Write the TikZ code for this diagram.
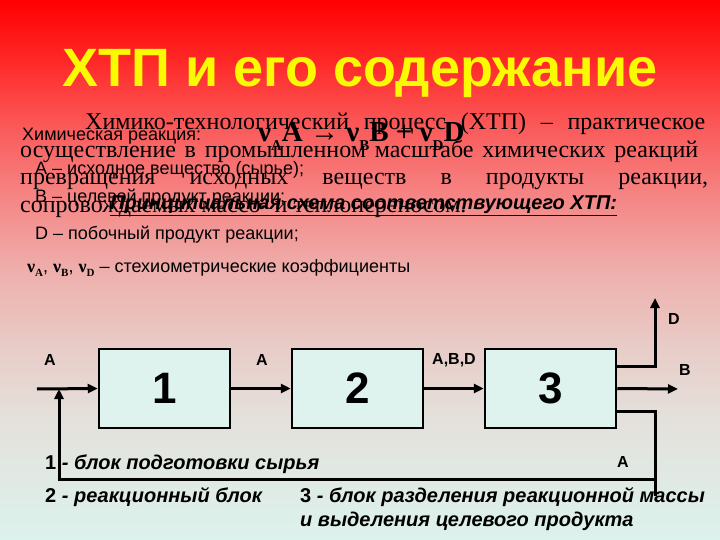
\documentclass[tikz,border=0pt]{standalone}
\usepackage{fontspec}
\setmainfont{Liberation Serif}
\setsansfont{Liberation Sans}
\usetikzlibrary{arrows.meta,positioning}

\definecolor{titleyellow}{RGB}{250,250,0}
\definecolor{boxfill}{RGB}{222,243,238}
\definecolor{bgA}{RGB}{255,0,0}
\definecolor{bgB}{RGB}{255,40,40}
\definecolor{bgC}{RGB}{250,95,95}
\definecolor{bgD}{RGB}{245,135,135}
\definecolor{bgE}{RGB}{238,175,172}
\definecolor{bgF}{RGB}{232,205,200}
\definecolor{bgG}{RGB}{228,225,220}
\definecolor{bgH}{RGB}{220,242,236}
\pgfdeclareverticalshading{slidebg}{100bp}{color(0bp)=(bgH); color(25bp)=(bgH);
  color(36.1bp)=(bgG); color(42.6bp)=(bgF); color(50bp)=(bgE); color(56.5bp)=(bgD);
  color(62.5bp)=(bgC); color(69.4bp)=(bgB); color(75bp)=(bgA); color(100bp)=(bgA)}

\newcommand\nusub[1]{ν\raisebox{-0.3em}{\fontsize{15}{15}\selectfont #1}}
\newcommand\nusmall[1]{{\rmfamily\bfseries\fontsize{18}{18}\selectfont ν\raisebox{-0.25em}{\fontsize{11}{11}\selectfont #1}}}

\tikzset{
  blk/.style={draw, line width=2.5pt, fill=boxfill, minimum width=131pt, minimum height=79pt,
    inner sep=0pt, font=\fontsize{44}{44}\selectfont\sffamily\bfseries},
  flow/.style={line width=3pt, -{Triangle[length=10pt,width=9pt]}},
  pipe/.style={line width=3pt},
  lbl/.style={inner sep=0pt, font=\fontsize{16}{16}\selectfont\sffamily\bfseries},
  note/.style={anchor=base west, inner sep=0pt, font=\fontsize{20}{20}\selectfont\sffamily\bfseries},
  txt/.style={anchor=base west, inner sep=0pt, font=\fontsize{24}{24}\selectfont\rmfamily},
  sml/.style={anchor=base west, inner sep=0pt, font=\fontsize{18}{18}\selectfont\sffamily}
}

\begin{document}
\begin{tikzpicture}[x=1pt,y=-1pt]
\useasboundingbox (0,0) rectangle (720,540);
\shade[shading=slidebg] (0,0) rectangle (720,540);

\node[inner sep=0pt, text=titleyellow, font=\fontsize{54}{54}\selectfont\sffamily\bfseries] (title) at (360,74) {ХТП и его содержание};

\node[txt] (par1) at (85,130) {\makebox[620pt][s]{Химико-технологический процесс (ХТП) – практическое}};
\node[txt] (par2) at (20,158) {\makebox[678pt][s]{осуществление в промышленном масштабе химических реакций}};
\node[txt] (par3) at (20,185) {\makebox[688pt][s]{превращения исходных веществ в продукты реакции,}};
\node[txt] (par4) at (20,213) {сопровождаемых массо- и теплопереносом.};

\node[sml] (react) at (22,141) {Химическая реакция:};
\node[anchor=base west, inner sep=0pt, font=\fontsize{29}{29}\selectfont\rmfamily\bfseries] (eqn) at (258,142)
  {\nusub{A}A → \nusub{B}B + \nusub{D}D};
\node[sml] (defA) at (35,175) {А – исходное вещество (сырье);};
\node[sml] (defB) at (35,203) {В – целевой продукт реакции;};
\node[sml] (defD) at (35,240) {D – побочный продукт реакции;};
\node[sml] (defnu) at (27,272) {\nusmall{A}, \nusmall{B}, \nusmall{D} – стехиометрические коэффициенты};
\node[note] (head) at (110,210) {\itshape\underline{Принципиальная схема соответствующего ХТП:}};

\node[blk] (blk1) at (164.5,388.5) {1};
\node[blk, right=59.5pt of blk1] (blk2) {2};
\node[blk, right=59.5pt of blk2] (blk3) {3};

\coordinate (in) at (37,389);
\coordinate (join) at (59,389);
\coordinate (dout) at (655,298);
\coordinate (bout) at (678,389);
\coordinate (aend) at (655,496);
\coordinate (aret) at (655,479);

\draw[flow] (in) -- (blk1.west);
\draw[flow] (blk1.east) -- (blk2.west);
\draw[flow] (blk2.east) -- (blk3.west);
\draw[flow] ([yshift=22pt]blk3.east) -| (dout);
\draw[flow] (blk3.east) -- (bout);
\draw[pipe] ([yshift=-23pt]blk3.east) -| (aend);
\draw[flow] (aret) -| (join);

\node[lbl] (lA1) at (50,360) {A};
\node[lbl] (lA2) at (262,360) {A};
\node[lbl] (lABD) at (454,360) {A,B,D};
\node[lbl] (lD) at (674,319) {D};
\node[lbl] (lB) at (685,370) {B};
\node[lbl] (lA3) at (623,462) {A};

\node[note] (n1) at (45,469) {1 \itshape - блок подготовки сырья};
\node[note] (n2) at (45,502) {2 \itshape - реакционный блок};
\node[note] (n3) at (300,502) {3 \itshape - блок разделения реакционной массы};
\node[note] (n3b) at (300,526) {\itshape и выделения целевого продукта};
\end{tikzpicture}
\end{document}
